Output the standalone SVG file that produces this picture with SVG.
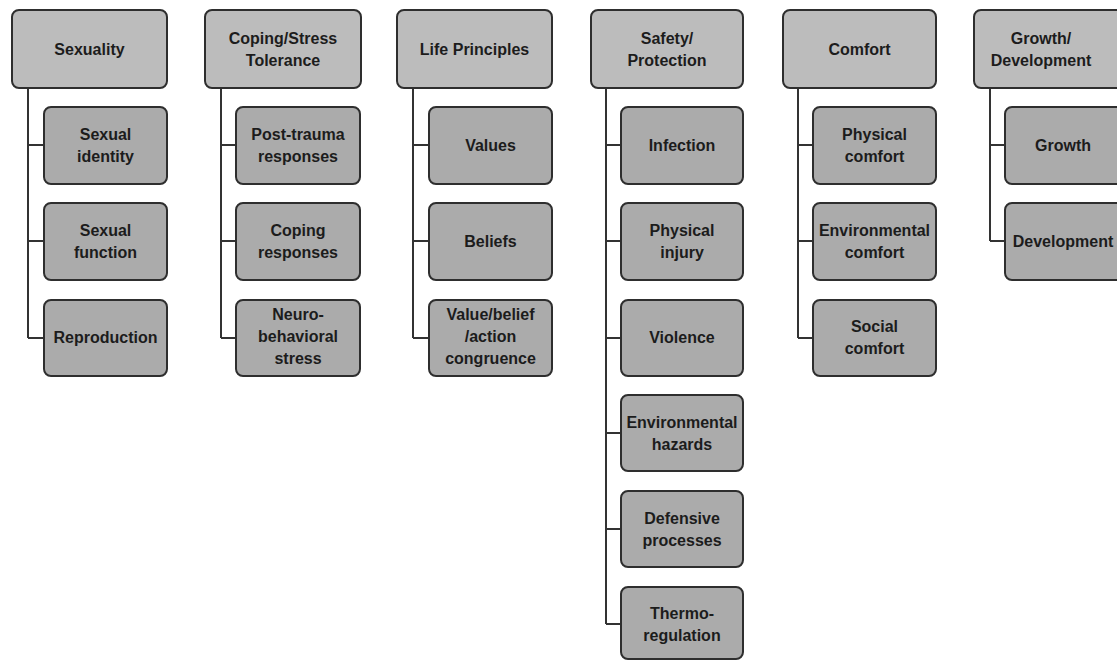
<svg xmlns="http://www.w3.org/2000/svg" width="1117" height="660" viewBox="0 0 1117 660">
  <style>
    .hdr { fill: #bcbcbc; stroke: #2e2e2e; stroke-width: 2; }
    .sub { fill: #ababab; stroke: #2e2e2e; stroke-width: 2; }
    .lbl { font-family: "Liberation Sans", Arial, sans-serif; font-size: 16px; font-weight: bold; fill: #1c1c1c; text-anchor: middle; }
    .wire { fill: none; stroke: #333333; stroke-width: 2; }
  </style>
  <rect width="1117" height="660" fill="#ffffff"/>

  <!-- connectors: trunk from each category down, with stubs to each item -->
  <g id="connectors" class="wire">
    <path d="M28 88 V338 M28 145 H44 M28 241 H44 M28 338 H44"/>
    <path d="M221 88 V338 M221 145 H236 M221 241 H236 M221 338 H236"/>
    <path d="M413 88 V338 M413 145 H429 M413 241 H429 M413 338 H429"/>
    <path d="M606 88 V624 M606 145 H621 M606 241 H621 M606 338 H621 M606 433 H621 M606 529 H621 M606 624 H621"/>
    <path d="M798 88 V338 M798 145 H813 M798 241 H813 M798 338 H813"/>
    <path d="M990 88 V241 M990 145 H1005 M990 241 H1005"/>
  </g>

  <!-- Sexuality -->
  <g id="sexuality">
    <rect class="hdr" x="12" y="10" width="155" height="78" rx="7"/>
    <text class="lbl" x="89.5" y="55">Sexuality</text>
  </g>
  <g id="sexual-identity">
    <rect class="sub" x="44" y="107" width="123" height="77" rx="7"/>
    <text class="lbl" x="105.5" y="140">Sexual</text>
    <text class="lbl" x="105.5" y="162">identity</text>
  </g>
  <g id="sexual-function">
    <rect class="sub" x="44" y="203" width="123" height="77" rx="7"/>
    <text class="lbl" x="105.5" y="236">Sexual</text>
    <text class="lbl" x="105.5" y="258">function</text>
  </g>
  <g id="reproduction">
    <rect class="sub" x="44" y="300" width="123" height="76" rx="7"/>
    <text class="lbl" x="105.5" y="343">Reproduction</text>
  </g>

  <!-- Coping/Stress Tolerance -->
  <g id="coping">
    <rect class="hdr" x="205" y="10" width="156" height="78" rx="7"/>
    <text class="lbl" x="283" y="44">Coping/Stress</text>
    <text class="lbl" x="283" y="66">Tolerance</text>
  </g>
  <g id="post-trauma">
    <rect class="sub" x="236" y="107" width="124" height="77" rx="7"/>
    <text class="lbl" x="298" y="140">Post-trauma</text>
    <text class="lbl" x="298" y="162">responses</text>
  </g>
  <g id="coping-responses">
    <rect class="sub" x="236" y="203" width="124" height="77" rx="7"/>
    <text class="lbl" x="298" y="236">Coping</text>
    <text class="lbl" x="298" y="258">responses</text>
  </g>
  <g id="neuro-stress">
    <rect class="sub" x="236" y="300" width="124" height="76" rx="7"/>
    <text class="lbl" x="298" y="320">Neuro-</text>
    <text class="lbl" x="298" y="342">behavioral</text>
    <text class="lbl" x="298" y="364">stress</text>
  </g>

  <!-- Life Principles -->
  <g id="life-principles">
    <rect class="hdr" x="397" y="10" width="155" height="78" rx="7"/>
    <text class="lbl" x="474.5" y="55">Life Principles</text>
  </g>
  <g id="values">
    <rect class="sub" x="429" y="107" width="123" height="77" rx="7"/>
    <text class="lbl" x="490.5" y="151">Values</text>
  </g>
  <g id="beliefs">
    <rect class="sub" x="429" y="203" width="123" height="77" rx="7"/>
    <text class="lbl" x="490.5" y="247">Beliefs</text>
  </g>
  <g id="congruence">
    <rect class="sub" x="429" y="300" width="123" height="76" rx="7"/>
    <text class="lbl" x="490.5" y="320">Value/belief</text>
    <text class="lbl" x="490.5" y="342">/action</text>
    <text class="lbl" x="490.5" y="364">congruence</text>
  </g>

  <!-- Safety/Protection -->
  <g id="safety">
    <rect class="hdr" x="591" y="10" width="152" height="78" rx="7"/>
    <text class="lbl" x="667" y="44">Safety/</text>
    <text class="lbl" x="667" y="66">Protection</text>
  </g>
  <g id="infection">
    <rect class="sub" x="621" y="107" width="122" height="77" rx="7"/>
    <text class="lbl" x="682" y="151">Infection</text>
  </g>
  <g id="physical-injury">
    <rect class="sub" x="621" y="203" width="122" height="77" rx="7"/>
    <text class="lbl" x="682" y="236">Physical</text>
    <text class="lbl" x="682" y="258">injury</text>
  </g>
  <g id="violence">
    <rect class="sub" x="621" y="300" width="122" height="76" rx="7"/>
    <text class="lbl" x="682" y="343">Violence</text>
  </g>
  <g id="environmental-hazards">
    <rect class="sub" x="621" y="395" width="122" height="76" rx="7"/>
    <text class="lbl" x="682" y="428">Environmental</text>
    <text class="lbl" x="682" y="450">hazards</text>
  </g>
  <g id="defensive-processes">
    <rect class="sub" x="621" y="491" width="122" height="76" rx="7"/>
    <text class="lbl" x="682" y="524">Defensive</text>
    <text class="lbl" x="682" y="546">processes</text>
  </g>
  <g id="thermoregulation">
    <rect class="sub" x="621" y="587" width="122" height="72" rx="7"/>
    <text class="lbl" x="682" y="619">Thermo-</text>
    <text class="lbl" x="682" y="641">regulation</text>
  </g>

  <!-- Comfort -->
  <g id="comfort">
    <rect class="hdr" x="783" y="10" width="153" height="78" rx="7"/>
    <text class="lbl" x="859.5" y="55">Comfort</text>
  </g>
  <g id="physical-comfort">
    <rect class="sub" x="813" y="107" width="123" height="77" rx="7"/>
    <text class="lbl" x="874.5" y="140">Physical</text>
    <text class="lbl" x="874.5" y="162">comfort</text>
  </g>
  <g id="environmental-comfort">
    <rect class="sub" x="813" y="203" width="123" height="77" rx="7"/>
    <text class="lbl" x="874.5" y="236">Environmental</text>
    <text class="lbl" x="874.5" y="258">comfort</text>
  </g>
  <g id="social-comfort">
    <rect class="sub" x="813" y="300" width="123" height="76" rx="7"/>
    <text class="lbl" x="874.5" y="332">Social</text>
    <text class="lbl" x="874.5" y="354">comfort</text>
  </g>

  <!-- Growth/Development -->
  <g id="growth-development">
    <rect class="hdr" x="974" y="10" width="155" height="78" rx="7"/>
    <text class="lbl" x="1041" y="44">Growth/</text>
    <text class="lbl" x="1041" y="66">Development</text>
  </g>
  <g id="growth">
    <rect class="sub" x="1005" y="107" width="123" height="77" rx="7"/>
    <text class="lbl" x="1063" y="151">Growth</text>
  </g>
  <g id="development">
    <rect class="sub" x="1005" y="203" width="123" height="77" rx="7"/>
    <text class="lbl" x="1063" y="247">Development</text>
  </g>
</svg>
